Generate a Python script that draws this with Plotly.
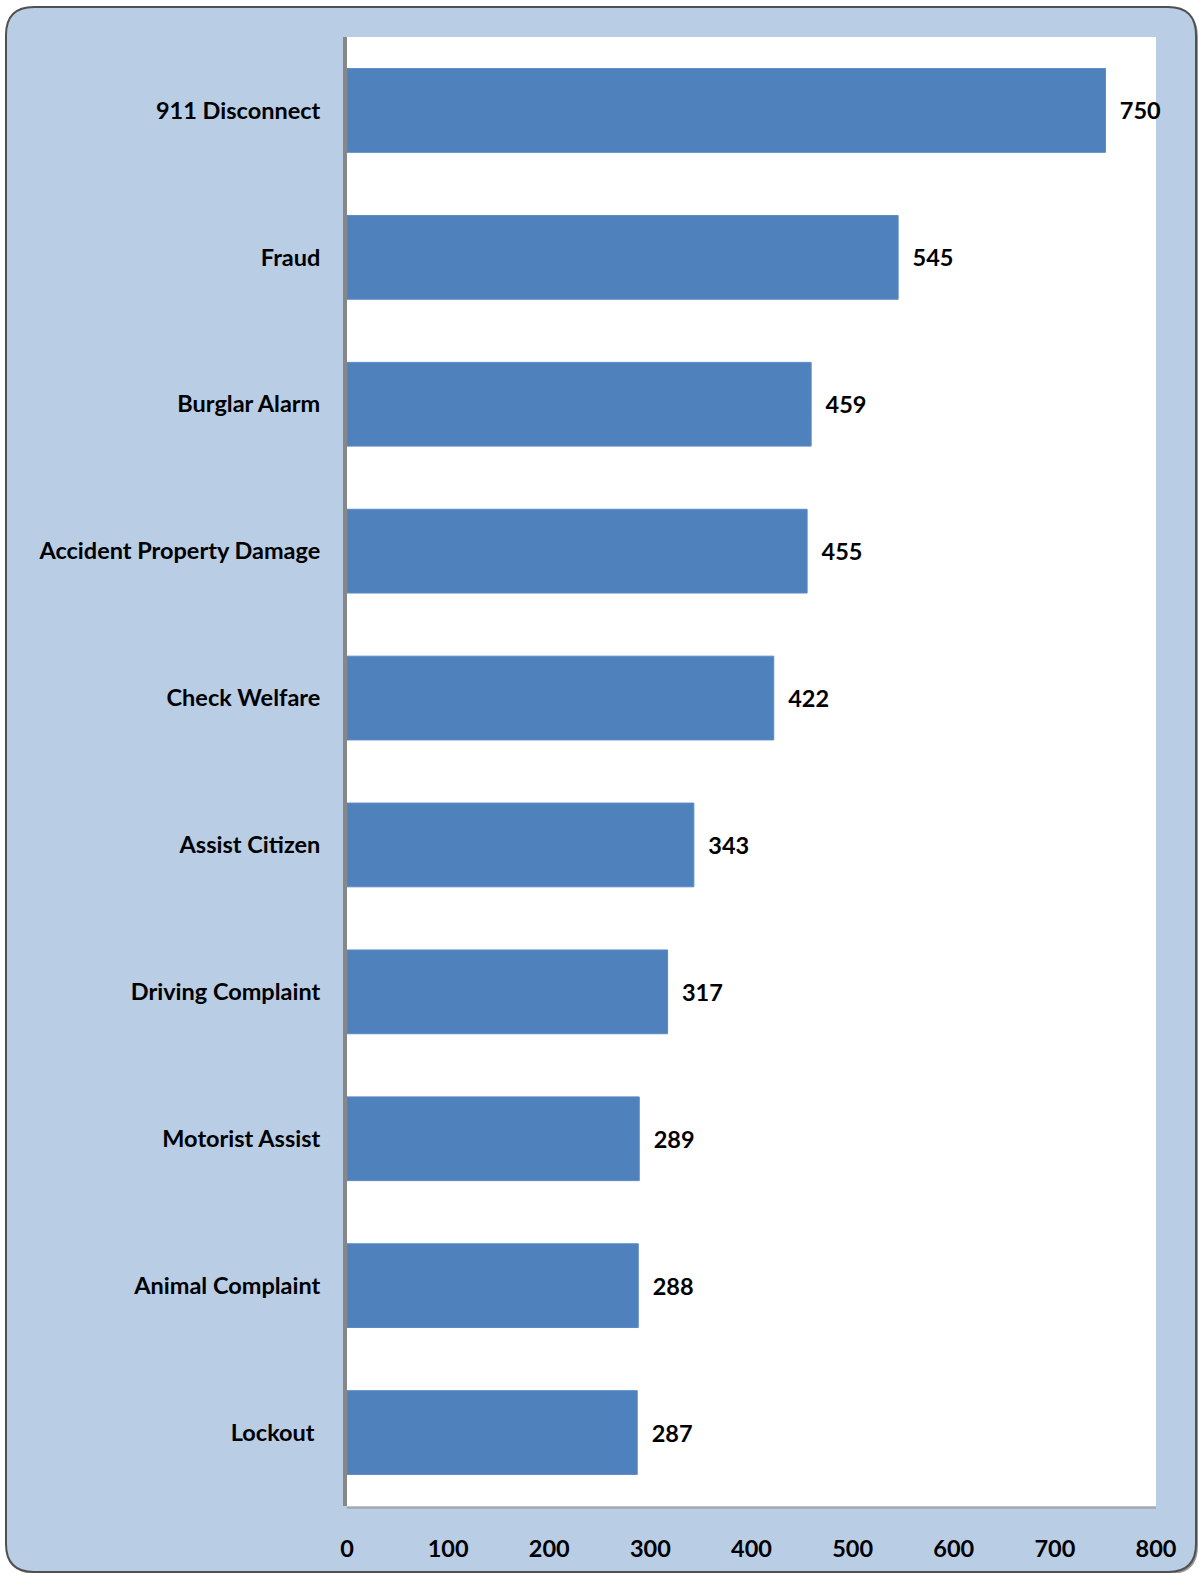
import plotly.graph_objects as go

categories = ["911 Disconnect", "Fraud", "Burglar Alarm", "Accident Property Damage",
              "Check Welfare", "Assist Citizen", "Driving Complaint", "Motorist Assist",
              "Animal Complaint", "Lockout "]
values = [750, 545, 459, 455, 422, 343, 317, 289, 288, 287]
x_ticks = [0, 100, 200, 300, 400, 500, 600, 700, 800]

W, H = 1199, 1573
L, R, T, B = 347, 43, 37, 67

def px_x(p):
    return (p - L) / (W - L - R)

def px_y(p):
    return 1 - (p - T) / (H - T - B)

font_family = "Lato, Open Sans, sans-serif"
fsize = 23.5

fig = go.Figure()
fig.add_trace(go.Bar(
    y=categories[::-1], x=values[::-1], orientation="h",
    marker=dict(color="#4F81BD", line=dict(color="#5A8AC4", width=1)),
    text=[str(v) for v in values[::-1]],
    textposition="outside",
    texttemplate="  %{text}",
    textfont=dict(family=font_family, size=fsize, color="black", weight="bold"),
    cliponaxis=False,
))

# rounded background
x0, y0, x1, y1 = px_x(6), px_y(7), px_x(1196), px_y(1572)
rx = 28 / (W - L - R)
ry = 28 / (H - T - B)

def rounded(dx, dy):
    a0, a1 = x0 + dx, x1 + dx
    b0, b1 = y0 + dy, y1 + dy
    return (f"M {a0+rx},{b0} L {a1-rx},{b0} Q {a1},{b0} {a1},{b0-ry} "
            f"L {a1},{b1+ry} Q {a1},{b1} {a1-rx},{b1} L {a0+rx},{b1} "
            f"Q {a0},{b1} {a0},{b1+ry} L {a0},{b0-ry} Q {a0},{b0} {a0+rx},{b0} Z")

sx = 2 / (W - L - R)
sy = 2 / (H - T - B)

shapes = [
    dict(type="path", xref="paper", yref="paper", path=rounded(sx, -sy),
         fillcolor="rgba(70,70,70,0.55)", line=dict(width=0), layer="below"),
    dict(type="path", xref="paper", yref="paper", path=rounded(0, 0),
         fillcolor="#B9CDE5", line=dict(color="#505050", width=2), layer="below"),
    dict(type="rect", xref="paper", yref="paper", x0=0, x1=1, y0=0, y1=1,
         fillcolor="white", line=dict(width=0), layer="below"),
    dict(type="line", xref="paper", yref="paper", x0=0, x1=1, y0=-0.0012, y1=-0.0012,
         line=dict(color="#A6A6A6", width=2), layer="below"),
]

fig.update_layout(
    width=W, height=H,
    margin=dict(l=L, r=R, t=T, b=B),
    paper_bgcolor="white",
    plot_bgcolor="rgba(0,0,0,0)",
    shapes=shapes,
    showlegend=False,
    bargap=0.43,
    xaxis=dict(range=[0, 800], tickvals=x_ticks, showgrid=False, zeroline=False,
               tickfont=dict(family=font_family, size=fsize, color="black", weight="bold"),
               ticks="", ticklabelstandoff=26, fixedrange=True),
    yaxis=dict(showline=True, linecolor="#878787", linewidth=4, showgrid=False,
               tickfont=dict(family=font_family, size=fsize, color="black", weight="bold"),
               ticks="", ticklabelstandoff=18, fixedrange=True),
)

fig.write_html("out.html", config={"displayModeBar": False},
               post_script="document.body.style.margin='0';document.body.style.overflow='hidden';")
